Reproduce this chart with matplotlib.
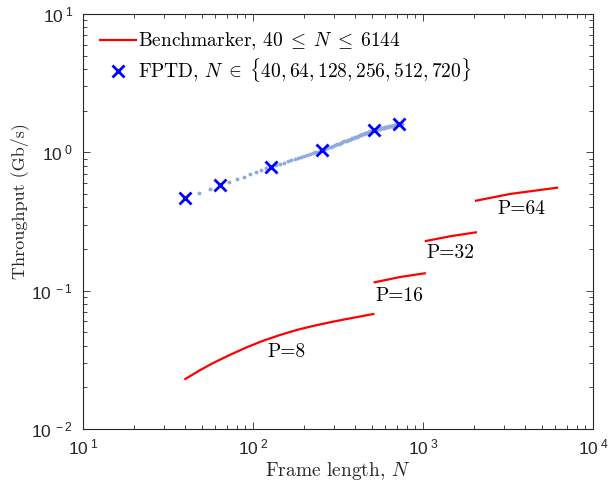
import numpy as np
import matplotlib
matplotlib.use("Agg")
import matplotlib.pyplot as plt
from matplotlib.ticker import FixedLocator, LogLocator, NullFormatter

plt.rcParams['mathtext.fontset'] = 'cm'
plt.rcParams['font.family'] = 'serif'
plt.rcParams['font.serif'] = ['cmr10']
plt.rcParams['axes.unicode_minus'] = False
plt.rcParams['axes.formatter.use_mathtext'] = True

# FPTD measurements
fptd_n = [40, 64, 128, 256, 512, 720]
fptd_tp = [0.466, 0.578, 0.787, 1.04, 1.45, 1.60]

# FPTD fine sweep (light blue dots), N step 8
sweep_n = [40, 48, 56, 64, 72, 80, 88, 96, 104, 112, 120, 128, 136, 144, 152, 160,
           168, 176, 184, 192, 200, 208, 216, 224, 232, 240, 248, 256, 264, 272,
           280, 288, 296, 304, 312, 320, 328, 336, 344, 352, 360, 368, 376, 384,
           392, 400, 408, 416, 424, 432, 440, 448, 456, 464, 472, 480, 488, 496,
           504, 512, 520, 528, 536, 544, 552, 560, 568, 576, 584, 592, 600, 608,
           616, 624, 632, 640, 648, 656, 664, 672, 680, 688, 696, 704, 712, 720,
           728, 736, 744, 752]
sweep_tp = [0.466, 0.506, 0.544, 0.578, 0.609, 0.639, 0.666, 0.693, 0.718, 0.742,
            0.765, 0.787, 0.807, 0.825, 0.843, 0.861, 0.878, 0.895, 0.911, 0.927,
            0.942, 0.957, 0.971, 0.986, 1.000, 1.013, 1.027, 1.040, 1.055, 1.070,
            1.085, 1.100, 1.115, 1.129, 1.143, 1.157, 1.171, 1.184, 1.198, 1.211,
            1.224, 1.237, 1.250, 1.262, 1.275, 1.287, 1.299, 1.312, 1.324, 1.335,
            1.347, 1.359, 1.370, 1.382, 1.393, 1.405, 1.416, 1.427, 1.438, 1.450,
            1.455, 1.462, 1.468, 1.474, 1.480, 1.486, 1.492, 1.498, 1.504, 1.510,
            1.516, 1.521, 1.527, 1.533, 1.538, 1.544, 1.549, 1.555, 1.560, 1.565,
            1.570, 1.575, 1.581, 1.586, 1.591, 1.600, 1.604, 1.608, 1.612, 1.616]

# Benchmarker segments, one per P
p8_n = [40, 49, 58, 73, 92, 115, 144, 181, 226, 284, 356, 510]
p8_tp = [0.0230, 0.0267, 0.0299, 0.0343, 0.0390, 0.0435, 0.0478, 0.0520, 0.0556, 0.0591, 0.0624, 0.0678]
p16_n = [520, 733, 1024]
p16_tp = [0.115, 0.1255, 0.1335]
p32_n = [1040, 1450, 2048]
p32_tp = [0.2286, 0.2475, 0.264]
p64_n = [2050, 3250, 6144]
p64_tp = [0.447, 0.500, 0.555]

p_labels = ['P=8', 'P=16', 'P=32', 'P=64']
p_label_n = [158, 726, 1442, 3810]
p_label_tp = [0.0362, 0.092, 0.188, 0.389]

fig = plt.figure(figsize=(6.09, 4.83), dpi=100)
ax = fig.add_axes([0.1363, 0.1118, 0.8374, 0.8592])

ax.plot(sweep_n, sweep_tp, linestyle='none', marker='o', markersize=2.8,
        markeredgewidth=0, color='#8eaadf', zorder=2)
red_lines = []
for n, tp in [(p8_n, p8_tp), (p16_n, p16_tp), (p32_n, p32_tp), (p64_n, p64_tp)]:
    l, = ax.plot(n, tp, color='#ff0000', lw=1.6, zorder=3)
    red_lines.append(l)
mk, = ax.plot(fptd_n, fptd_tp, linestyle='none', marker='x', markersize=9,
              markeredgewidth=2, color='#0000ff', zorder=4)

for lab, x, y in zip(p_labels, p_label_n, p_label_tp):
    ax.text(x, y, lab, ha='center', va='center', fontsize=14)

ax.set_xscale('log')
ax.set_yscale('log')
ax.set_xlim(10, 1e4)
ax.set_ylim(1e-2, 10)

sans = 'Liberation Sans'
ax.xaxis.set_major_locator(FixedLocator([10, 100, 1000, 10000]))
ax.yaxis.set_major_locator(FixedLocator([0.01, 0.1, 1, 10]))
ax.set_xticklabels([r'$\mathregular{10^{\;1}}$', r'$\mathregular{10^{\;2}}$',
                    r'$\mathregular{10^{\;3}}$', r'$\mathregular{10^{\;4}}$'],
                   fontfamily=sans, fontsize=12.5)
ax.set_yticklabels([r'$\mathregular{10^{\;-2}}$', r'$\mathregular{10^{\;-1}}$',
                    r'$\mathregular{10^{\;0}}$', r'$\mathregular{10^{\;1}}$'],
                   fontfamily=sans, fontsize=12.5)
ax.xaxis.set_minor_locator(LogLocator(base=10, subs=np.arange(2, 10)))
ax.yaxis.set_minor_locator(LogLocator(base=10, subs=np.arange(2, 10)))
ax.xaxis.set_minor_formatter(NullFormatter())
ax.yaxis.set_minor_formatter(NullFormatter())
ax.tick_params(which='both', direction='in', top=True, right=True,
               color='#262626', labelcolor='#262626')
ax.tick_params(axis='x', which='major', pad=6)
ax.tick_params(axis='y', which='major', pad=7)
ax.tick_params(which='major', length=5, width=0.6)
ax.tick_params(which='minor', length=3, width=0.6)
for s in ax.spines.values():
    s.set_color('#262626')
    s.set_linewidth(0.8)

ax.set_xlabel(r'Frame length, $N$', fontsize=14, color='#262626', labelpad=2)
ax.set_ylabel('Throughput (Gb/s)', fontsize=13, color='#262626')
ax.yaxis.set_label_coords(-0.106, 0.549)

ax.legend([red_lines[0], mk],
          [r'Benchmarker, $40\;\leq\;N\;\leq\;6144$',
           r'FPTD, $N\;\in\;\{40, 64, 128, 256, 512, 720\}$'],
          loc='upper left', frameon=False, fontsize=14, handlelength=1.85,
          handletextpad=0.15, borderaxespad=0.45, labelspacing=0.2)

fig.savefig('out.png', dpi=100)
